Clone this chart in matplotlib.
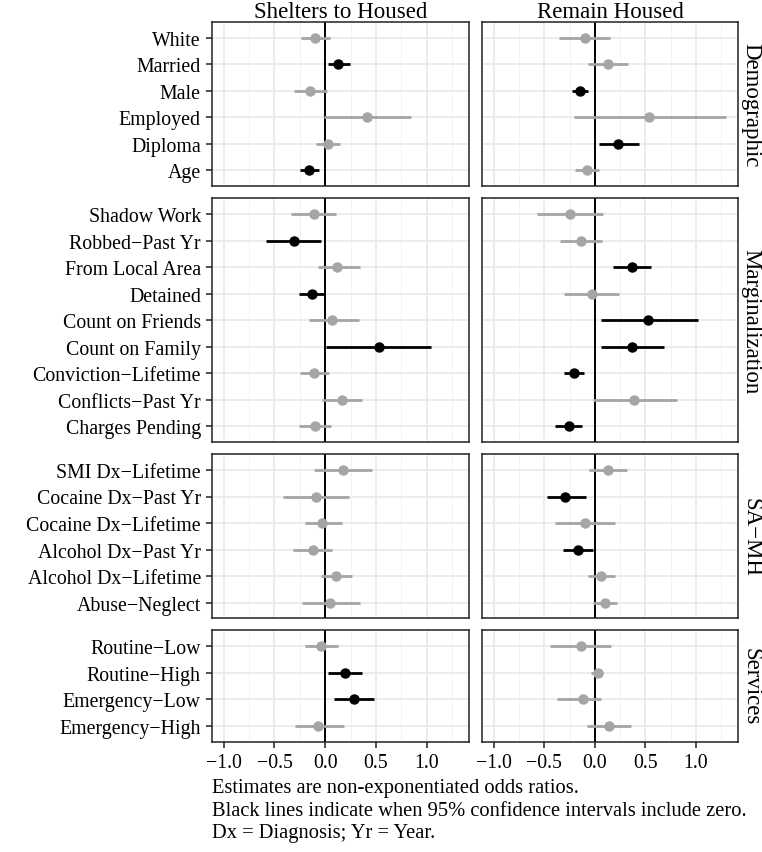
import numpy as np
import matplotlib.pyplot as plt
from matplotlib.ticker import MultipleLocator

plt.rcParams['font.family'] = ['Liberation Serif', 'DejaVu Serif']

# facet rows and their items (top to bottom)
groups = ['Demographic', 'Marginalization', 'SA\u2212MH', 'Services']
items = {
    'Demographic': ['White', 'Married', 'Male', 'Employed', 'Diploma', 'Age'],
    'Marginalization': ['Shadow Work', 'Robbed\u2212Past Yr', 'From Local Area', 'Detained',
                        'Count on Friends', 'Count on Family', 'Conviction\u2212Lifetime',
                        'Conflicts\u2212Past Yr', 'Charges Pending'],
    'SA\u2212MH': ['SMI Dx\u2212Lifetime', 'Cocaine Dx\u2212Past Yr', 'Cocaine Dx\u2212Lifetime',
                   'Alcohol Dx\u2212Past Yr', 'Alcohol Dx\u2212Lifetime', 'Abuse\u2212Neglect'],
    'Services': ['Routine\u2212Low', 'Routine\u2212High', 'Emergency\u2212Low', 'Emergency\u2212High'],
}
models = ['Shelters to Housed', 'Remain Housed']

# estimates, lower and upper 95% CI: [model][group]
est = {
    'Shelters to Housed': {
        'Demographic': [-0.10, 0.13, -0.15, 0.41, 0.03, -0.16],
        'Marginalization': [-0.11, -0.31, 0.12, -0.13, 0.07, 0.53, -0.11, 0.16, -0.10],
        'SA\u2212MH': [0.17, -0.09, -0.03, -0.12, 0.11, 0.05],
        'Services': [-0.04, 0.19, 0.28, -0.07],
    },
    'Remain Housed': {
        'Demographic': [-0.10, 0.13, -0.15, 0.54, 0.23, -0.08],
        'Marginalization': [-0.25, -0.14, 0.37, -0.03, 0.53, 0.37, -0.21, 0.39, -0.26],
        'SA\u2212MH': [0.13, -0.29, -0.10, -0.17, 0.06, 0.10],
        'Services': [-0.14, 0.03, -0.12, 0.14],
    },
}
lo = {
    'Shelters to Housed': {
        'Demographic': [-0.24, 0.03, -0.31, -0.01, -0.09, -0.25],
        'Marginalization': [-0.34, -0.58, -0.07, -0.26, -0.16, 0.01, -0.25, -0.03, -0.26],
        'SA\u2212MH': [-0.11, -0.42, -0.20, -0.32, -0.04, -0.23],
        'Services': [-0.20, 0.03, 0.09, -0.30],
    },
    'Remain Housed': {
        'Demographic': [-0.35, -0.07, -0.23, -0.21, 0.04, -0.20],
        'Marginalization': [-0.57, -0.34, 0.18, -0.30, 0.06, 0.06, -0.30, -0.02, -0.39],
        'SA\u2212MH': [-0.06, -0.47, -0.39, -0.31, -0.07, -0.02],
        'Services': [-0.44, -0.04, -0.37, -0.08],
    },
}
hi = {
    'Shelters to Housed': {
        'Demographic': [0.05, 0.24, 0.02, 0.84, 0.15, -0.06],
        'Marginalization': [0.11, -0.04, 0.34, -0.01, 0.33, 1.04, 0.04, 0.36, 0.06],
        'SA\u2212MH': [0.46, 0.23, 0.16, 0.07, 0.26, 0.34],
        'Services': [0.13, 0.36, 0.48, 0.18],
    },
    'Remain Housed': {
        'Demographic': [0.15, 0.33, -0.07, 1.30, 0.44, 0.04],
        'Marginalization': [0.08, 0.07, 0.56, 0.24, 1.02, 0.68, -0.11, 0.81, -0.13],
        'SA\u2212MH': [0.32, -0.09, 0.20, -0.02, 0.20, 0.22],
        'Services': [0.16, 0.08, 0.06, 0.36],
    },
}

xticks = [-1.0, -0.5, 0.0, 0.5, 1.0]
xticklabels = ['\u22121.0', '\u22120.5', '0.0', '0.5', '1.0']
caption = ['Estimates are non-exponentiated odds ratios.',
           'Black lines indicate when 95% confidence intervals include zero.',
           'Dx = Diagnosis; Yr = Year.']

W, H = 762, 853
fig = plt.figure(figsize=(W / 100, H / 100), dpi=100)

unit, gap, top0 = 26.5, 12, 23
cols = [(212, 469), (482, 738)]
grey = '#A5A5A5'

top = top0
for g in groups:
    n = len(items[g])
    h = (n + 0.2) * unit
    for j, m in enumerate(models):
        x0, x1 = cols[j]
        ax = fig.add_axes([x0 / W, 1 - (top + h) / H, (x1 - x0) / W, h / H])
        y = np.arange(n)[::-1]
        e = np.array(est[m][g])
        l = np.array(lo[m][g])
        u = np.array(hi[m][g])
        sig = (l > 0) | (u < 0)
        for k in range(n):
            c = 'black' if sig[k] else grey
            ax.plot([l[k], u[k]], [y[k], y[k]], color=c, lw=2.0, solid_capstyle='butt', zorder=3)
            ax.plot(e[k], y[k], 'o', color=c, ms=6.5, zorder=4)
        ax.axvline(0, color='black', lw=1.4, zorder=2)
        ax.set_xlim(-1.115, 1.415)
        ax.set_ylim(-0.6, n - 0.4)
        ax.set_xticks(xticks)
        ax.xaxis.set_minor_locator(MultipleLocator(0.25))
        ax.set_yticks(y)
        ax.grid(which='major', color='#EBEBEB', lw=1.3, zorder=0)
        ax.grid(which='minor', axis='x', color='#F2F2F2', lw=0.7, zorder=0)
        ax.set_axisbelow(True)
        ax.tick_params(which='minor', length=0)
        ax.tick_params(which='major', length=4, width=1.2, color='#333333',
                       labelsize=14.3, labelcolor='black', pad=4)
        for s in ax.spines.values():
            s.set_color('#222222')
            s.set_linewidth(1.1)
        if j == 0:
            ax.set_yticklabels(items[g])
        else:
            ax.set_yticklabels([])
            ax.tick_params(axis='y', length=0)
            ax.text(1.05, 0.5, g, transform=ax.transAxes, rotation=270,
                    ha='center', va='center', fontsize=16.5)
        if g == groups[0]:
            ax.set_title(m, fontsize=16.5, pad=0)
        if g == groups[-1]:
            ax.set_xticklabels(xticklabels)
        else:
            ax.set_xticklabels([])
            ax.tick_params(axis='x', length=0)
    top += h + gap

for i, line in enumerate(caption):
    fig.text(212 / W, 1 - (789 + 22.5 * i) / H, line, ha='left', va='center', fontsize=14.8)

fig.savefig('out.png', dpi=100)
